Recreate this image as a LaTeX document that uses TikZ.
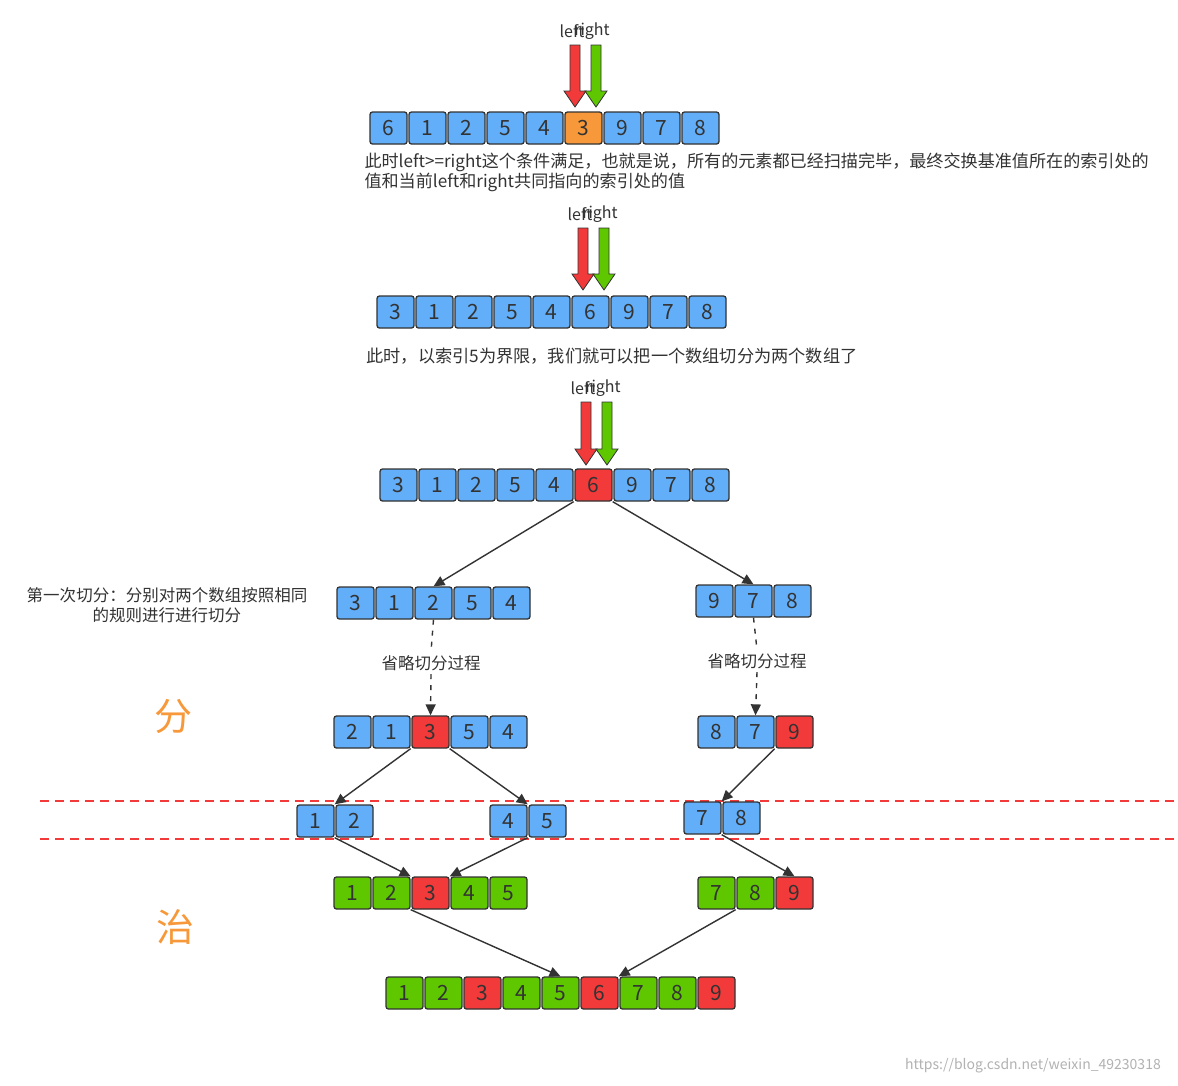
\documentclass[tikz,border=0pt]{standalone}
\usepackage{fontspec}
\setmainfont{Noto Sans CJK SC}
\usetikzlibrary{arrows.meta}
\definecolor{cb}{HTML}{62AEF8}
\definecolor{cg}{HTML}{5FC700}
\definecolor{cr}{HTML}{F23A3A}
\definecolor{co}{HTML}{F7993A}
\definecolor{ln}{HTML}{333333}
\tikzset{
 cell/.style={draw=ln,line width=1.3pt,rounded corners=2.5pt,minimum width=37pt,minimum height=32pt,inner sep=0pt,font=\fontsize{21}{21}\selectfont,text=ln},
 conn/.style={draw=ln,line width=1.4pt,-{Triangle[length=11pt,width=10pt]}},
 txt/.style={font=\fontsize{16.5}{20}\selectfont,text=ln,align=left},
}
\newcommand{\myrow}[4]{% name, x0, y, list of value/color
 \foreach \v/\c [count=\i] in {#4}{
   \node[cell,fill=\c] (#1\i) at ({#2+19.5+39*(\i-1)},#3) {\v};
 }}
\newcommand{\myptr}[4]{% name, xred, ytop, ybot
 \fill[cr,draw=ln,line width=0.8pt] (#2-5,#3) -- (#2+5,#3) -- (#2+5,#4-16) -- (#2+11,#4-16) -- (#2,#4) -- (#2-11,#4-16) -- (#2-5,#4-16) -- cycle;
 \fill[cg,draw=ln,line width=0.8pt] (#2+16,#3) -- (#2+26,#3) -- (#2+26,#4-16) -- (#2+32,#4-16) -- (#2+21,#4) -- (#2+10,#4-16) -- (#2+16,#4-16) -- cycle;
 \node[txt,font=\fontsize{16}{16}\selectfont] (#1l) at (#2-3,#3-14) {left};
 \node[txt,font=\fontsize{16}{16}\selectfont] (#1r) at (#2+17,#3-14) {right};
}
\begin{document}
\begin{tikzpicture}[x=1pt,y=-1pt]
\useasboundingbox (0,0) rectangle (1178,1085);
\fill[white] (0,0) rectangle (1178,1085);
\draw[cr,line width=1.2pt,dash pattern=on 9pt off 6pt] (40,801) -- (1178,801);
\draw[cr,line width=1.2pt,dash pattern=on 9pt off 6pt] (40,839) -- (1178,839);

\myptr{pa}{575}{45}{107}
\myrow{a}{369}{128}{6/cb,1/cb,2/cb,5/cb,4/cb,3/co,9/cb,7/cb,8/cb}
\node[txt,anchor=north west,font=\fontsize{17.1}{20}\selectfont] (ca) at (361,149) {此时left>=right这个条件满足，也就是说，所有的元素都已经扫描完毕，最终交换基准值所在的索引处的\\值和当前left和right共同指向的索引处的值};

\myptr{pb}{583}{228}{290}
\myrow{b}{376}{312}{3/cb,1/cb,2/cb,5/cb,4/cb,6/cb,9/cb,7/cb,8/cb}
\node[txt,font=\fontsize{17.2}{20}\selectfont] (cb0) at (612,356) {此时，以索引5为界限，我们就可以把一个数组切分为两个数组了};

\myptr{pc}{586}{402}{465}
\myrow{c}{379}{485}{3/cb,1/cb,2/cb,5/cb,4/cb,6/cr,9/cb,7/cb,8/cb}

\myrow{d}{336}{603}{3/cb,1/cb,2/cb,5/cb,4/cb}
\myrow{e}{695}{601}{9/cb,7/cb,8/cb}
\node[txt,align=center] (t1) at (167,605) {第一次切分：分别对两个数组按照相同\\的规则进行进行切分};

\myrow{f}{333}{732}{2/cb,1/cb,3/cr,5/cb,4/cb}
\myrow{g}{697}{732}{8/cb,7/cb,9/cr}

\myrow{h}{296}{821}{1/cb,2/cb}
\myrow{i}{489}{821}{4/cb,5/cb}
\myrow{j}{683}{818}{7/cb,8/cb}

\myrow{k}{333}{893}{1/cg,2/cg,3/cr,4/cg,5/cg}
\myrow{m}{697}{893}{7/cg,8/cg,9/cr}

\myrow{n}{385}{993}{1/cg,2/cg,3/cr,4/cg,5/cg,6/cr,7/cg,8/cg,9/cr}

\node[font=\fontsize{38}{38}\selectfont,text=co] (fen) at (173,716) {分};
\node[font=\fontsize{38}{38}\selectfont,text=co] (zhi) at (175,927) {治};
\node[font=\fontsize{14}{14}\selectfont,text=black!30] (wm) at (1033,1066) {https://blog.csdn.net/weixin\_49230318};

\draw[conn] (c5.south east) -- (d3.north);
\draw[conn] (c6.south east) -- (e2.north);
\node[txt] (s1) at (431,663) {省略切分过程};
\node[txt] (s2) at (757,661) {省略切分过程};
\draw[ln,line width=1.4pt,dash pattern=on 5pt off 6pt] (d3.south) -- (s1.north);
\draw[conn,dash pattern=on 5pt off 6pt] (s1.south) -- (f3.north);
\draw[ln,line width=1.4pt,dash pattern=on 5pt off 6pt] (e2.south) -- (s2.north);
\draw[conn,dash pattern=on 5pt off 6pt] (s2.south) -- (g2.north);

\draw[conn] (f2.south east) -- (h1.north east);
\draw[conn] (f3.south east) -- (i1.north east);
\draw[conn] (g2.south east) -- (j1.north east);
\draw[conn] (h1.south east) -- (k2.north east);
\draw[conn] (i1.south east) -- (k3.north east);
\draw[conn] (j1.south east) -- (m3.north);
\draw[conn] (k2.south east) -- (n5.north);
\draw[conn] (m1.south east) -- (n6.north east);
\end{tikzpicture}
\end{document}
